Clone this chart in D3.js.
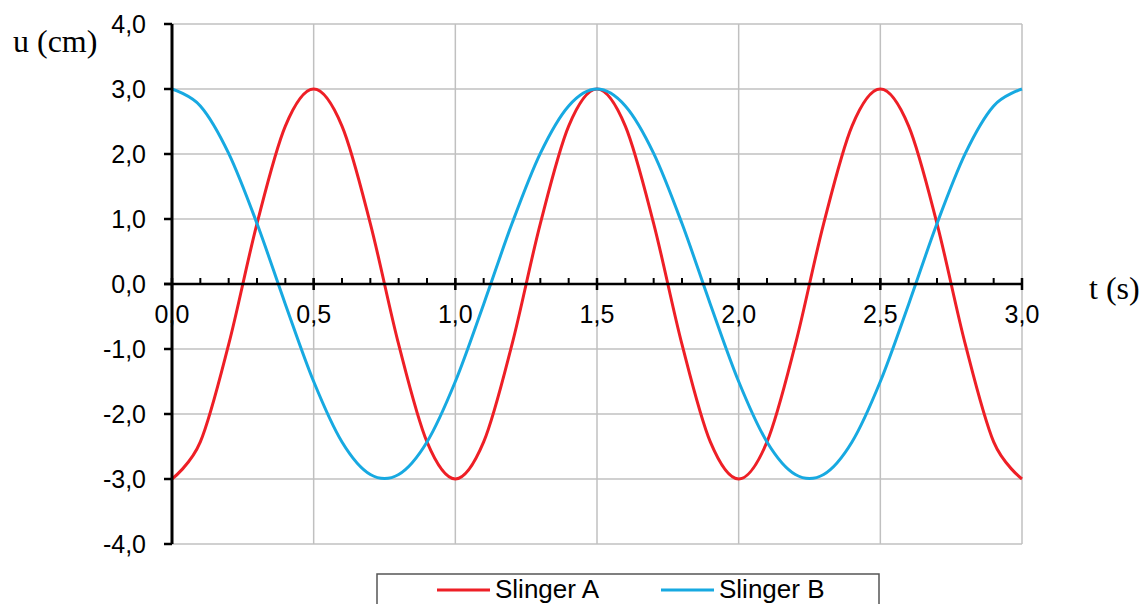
<!DOCTYPE html>
<html>
<head>
<meta charset="utf-8">
<script src="https://cdn.jsdelivr.net/npm/d3@7"></script>
<style>
  html, body { margin: 0; padding: 0; background: #ffffff; }
  svg { display: block; }
</style>
</head>
<body>
<svg id="chart" width="1146" height="604"></svg>
<script>
// ---- data ----
const times = [0.0, 0.1, 0.2, 0.3, 0.4, 0.5, 0.6, 0.7, 0.8, 0.9, 1.0,
               1.1, 1.2, 1.3, 1.4, 1.5, 1.6, 1.7, 1.8, 1.9, 2.0,
               2.1, 2.2, 2.3, 2.4, 2.5, 2.6, 2.7, 2.8, 2.9, 3.0];
const slingerA = [-3.00, -2.43, -0.93, 0.93, 2.43, 3.00, 2.43, 0.93, -0.93, -2.43, -3.00,
                  -2.43, -0.93, 0.93, 2.43, 3.00, 2.43, 0.93, -0.93, -2.43, -3.00,
                  -2.43, -0.93, 0.93, 2.43, 3.00, 2.43, 0.93, -0.93, -2.43, -3.00];
const slingerB = [3.00, 2.74, 2.01, 0.93, -0.31, -1.50, -2.43, -2.93, -2.93, -2.43, -1.50,
                  -0.31, 0.93, 2.01, 2.74, 3.00, 2.74, 2.01, 0.93, -0.31, -1.50,
                  -2.43, -2.93, -2.93, -2.43, -1.50, -0.31, 0.93, 2.01, 2.74, 3.00];
const seriesNames = ["Slinger A", "Slinger B"];
const seriesColors = ["#ee1f26", "#17a9e1"];
const yTickValues = [-4, -3, -2, -1, 0, 1, 2, 3, 4];
const yTickLabels = ["-4,0", "-3,0", "-2,0", "-1,0", "0,0", "1,0", "2,0", "3,0", "4,0"];
const xTickValues = [0, 0.5, 1.0, 1.5, 2.0, 2.5, 3.0];
const xTickLabels = ["0,0", "0,5", "1,0", "1,5", "2,0", "2,5", "3,0"];
const xMinorValues = d3.range(0, 31).map(i => i / 10);
const yTitle = "u (cm)";
const xTitle = "t (s)";

// ---- layout ----
const svg = d3.select("#chart");
const pLeft = 172, pRight = 1022, pTop = 24, pBottom = 544;
const x = d3.scaleLinear().domain([0, 3]).range([pLeft, pRight]);
const y = d3.scaleLinear().domain([-4, 4]).range([pBottom, pTop]);
const sans = "'Liberation Sans', Arial, sans-serif";
const serif = "'Liberation Serif', 'Times New Roman', serif";
const gridColor = "#c0c0c0";

// gridlines
const g = svg.append("g");
g.selectAll("line.hg").data(yTickValues.filter(v => v !== 0)).join("line")
  .attr("x1", pLeft).attr("x2", pRight)
  .attr("y1", d => y(d)).attr("y2", d => y(d))
  .attr("stroke", gridColor).attr("stroke-width", 1.5);
g.selectAll("line.vg").data(xTickValues.filter(v => v !== 0)).join("line")
  .attr("y1", pTop).attr("y2", pBottom)
  .attr("x1", d => x(d)).attr("x2", d => x(d))
  .attr("stroke", gridColor).attr("stroke-width", 1.5);

// x tick labels (under axes)
svg.append("g").selectAll("text").data(xTickValues).join("text")
  .attr("x", (d) => x(d))
  .attr("y", y(0) + 39)
  .attr("text-anchor", "middle")
  .attr("font-family", sans).attr("font-size", 25).attr("fill", "#000")
  .text((d, i) => xTickLabels[i]);

// y tick labels
svg.append("g").selectAll("text").data(yTickValues).join("text")
  .attr("x", 146)
  .attr("y", d => y(d) + 9)
  .attr("text-anchor", "end")
  .attr("font-family", sans).attr("font-size", 25).attr("fill", "#000")
  .text((d, i) => yTickLabels[i]);

// series
const line = d3.line()
  .x((d, i) => x(times[i]))
  .y(d => y(d))
  .curve(d3.curveCardinal.tension(0));
[slingerA, slingerB].forEach((s, k) => {
  svg.append("path").datum(s)
    .attr("d", line)
    .attr("fill", "none")
    .attr("stroke", seriesColors[k])
    .attr("stroke-width", 3)
    .attr("stroke-linejoin", "round");
});

// x axis with minor ticks
const ax = svg.append("g");
ax.append("line").attr("x1", pLeft - 8).attr("x2", pRight)
  .attr("y1", y(0)).attr("y2", y(0)).attr("stroke", "#000").attr("stroke-width", 2.5);
ax.selectAll("line.minor").data(xMinorValues).join("line")
  .attr("x1", d => x(d)).attr("x2", d => x(d))
  .attr("y1", y(0)).attr("y2", y(0) - 6)
  .attr("stroke", "#000").attr("stroke-width", 2);
ax.selectAll("line.major").data(xTickValues).join("line")
  .attr("x1", d => x(d)).attr("x2", d => x(d))
  .attr("y1", y(0) - 6).attr("y2", y(0) + 6)
  .attr("stroke", "#000").attr("stroke-width", 2.5);

// y axis
const ay = svg.append("g");
ay.append("line").attr("x1", pLeft).attr("x2", pLeft)
  .attr("y1", pTop).attr("y2", pBottom).attr("stroke", "#000").attr("stroke-width", 3);
ay.selectAll("line.t").data(yTickValues).join("line")
  .attr("x1", pLeft - 8).attr("x2", pLeft)
  .attr("y1", d => y(d)).attr("y2", d => y(d))
  .attr("stroke", "#000").attr("stroke-width", 2.5);

// axis titles
svg.append("text").attr("x", 13).attr("y", 52)
  .attr("font-family", serif).attr("font-size", 32).attr("fill", "#000")
  .text(yTitle);
svg.append("text").attr("x", 1089).attr("y", 299)
  .attr("font-family", serif).attr("font-size", 32).attr("fill", "#000")
  .text(xTitle);

// legend
const lg = svg.append("g");
lg.append("rect").attr("x", 377).attr("y", 574).attr("width", 502).attr("height", 40)
  .attr("fill", "#fff").attr("stroke", "#555").attr("stroke-width", 1.5);
const legendX = [437, 661];
seriesNames.forEach((name, k) => {
  lg.append("line").attr("x1", legendX[k]).attr("x2", legendX[k] + 53)
    .attr("y1", 590).attr("y2", 590)
    .attr("stroke", seriesColors[k]).attr("stroke-width", 3);
  lg.append("text").attr("x", legendX[k] + 58).attr("y", 597.5)
    .attr("font-family", sans).attr("font-size", 26).attr("fill", "#000")
    .text(name);
});
</script>
</body>
</html>
